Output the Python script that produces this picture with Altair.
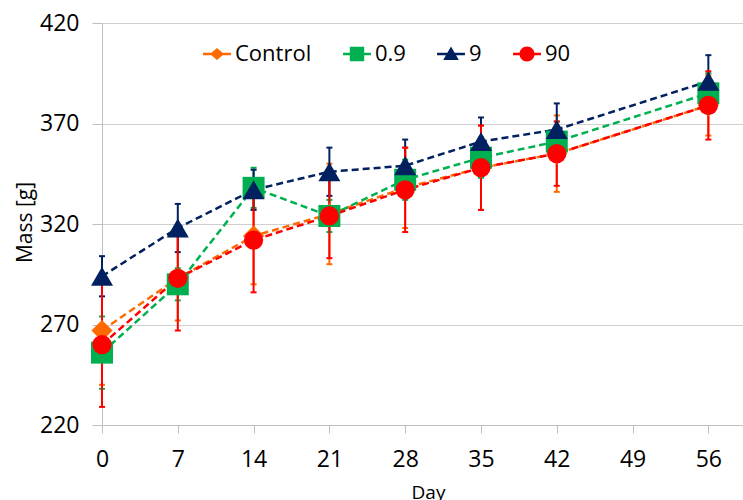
import altair as alt
import pandas as pd

# ---- data ----
days = [0, 7, 14, 21, 28, 35, 42, 56]
series_names = ["Control", "0.9", "9", "90"]
control_mass = [267, 293, 314, 325, 338, 348, 355, 379]
control_sd = [27, 21, 24, 25, 20, 21, 19, 15]
dose09_mass = [256, 290, 338, 324, 342, 353, 361, 385]
dose09_sd = [18, 8, 10, 8, 10, 10, 10, 10]
dose9_mass = [294, 318, 337, 346, 349, 361, 367, 391]
dose9_sd = [10, 12, 10, 12, 13, 12, 13, 13]
dose90_mass = [260, 293, 312, 324, 337, 348, 355, 379]
dose90_sd = [31, 26, 26, 21, 21, 21, 16, 17]
x_ticks = [0, 7, 14, 21, 28, 35, 42, 49, 56]
y_ticks = [220, 270, 320, 370, 420]

# ---- styles ----
colors = ["#FF6A00", "#00B050", "#002060", "#FF0000"]
shapes = ["diamond", "square", "triangle-up", "circle"]
sizes = [450, 484, 484, 370]
bar = "M-0.93,-0.08L0.93,-0.08L0.93,0.08L-0.93,0.08Z"
legend_paths = [
    bar + "M-0.47,0L0,-0.4L0.47,0L0,0.4Z",
    bar + "M-0.48,-0.48L0.48,-0.48L0.48,0.48L-0.48,0.48Z",
    bar + "M0,-0.5L0.52,0.4L-0.52,0.4Z",
    bar + "M0.5,0A0.5,0.5 0 1,1 -0.5,0A0.5,0.5 0 1,1 0.5,0Z",
]

masses = [control_mass, dose09_mass, dose9_mass, dose90_mass]
sds = [control_sd, dose09_sd, dose9_sd, dose90_sd]
rows = []
for name, m, s in zip(series_names, masses, sds):
    for d, v, e in zip(days, m, s):
        rows.append({"day": d, "series": name, "mass": v, "lo": v - e, "hi": v + e})
df = pd.DataFrame(rows)
caps = pd.concat([
    df[["day", "series", "lo"]].rename(columns={"lo": "cap"}),
    df[["day", "series", "hi"]].rename(columns={"hi": "cap"}),
])

FONT = "Open Sans"
x_scale = alt.Scale(domain=[0, 59.2], nice=False, zero=False)
y_scale = alt.Scale(domain=[220, 420], nice=False, zero=False)
x_axis = alt.Axis(values=x_ticks, title="Day", grid=False, tickSize=8, labelPadding=15,
                  labelFlush=False, titleFontSize=19, titleFontWeight="normal",
                  titleX=326, titleY=73, titleBaseline="alphabetic", titleAlign="center")
y_axis = alt.Axis(values=y_ticks, title="Mass [g]", grid=True, tickSize=10, labelPadding=13,
                  labelFlush=False, titleFontSize=21, titleFontWeight="normal",
                  titleAngle=270, titleX=-71, titleY=199, titleBaseline="alphabetic",
                  titleAlign="center")


def X():
    return alt.X("day:Q", scale=x_scale, axis=x_axis)


def Y(field):
    return alt.Y(f"{field}:Q", scale=y_scale, axis=y_axis)


layers = []
# error bars
for name, col in zip(series_names, colors):
    layers.append(
        alt.Chart(df).transform_filter(alt.datum.series == name)
        .mark_rule(strokeWidth=2, color=col)
        .encode(x=X(), y=Y("lo"), y2="hi:Q")
    )
    layers.append(
        alt.Chart(caps).transform_filter(alt.datum.series == name)
        .mark_tick(orient="horizontal", size=6, thickness=2, color=col, opacity=1)
        .encode(x=X(), y=Y("cap"))
    )
# dashed lines
for name, col in zip(series_names, colors):
    layers.append(
        alt.Chart(df).transform_filter(alt.datum.series == name)
        .mark_line(strokeDash=[7, 4], strokeWidth=2.5, color=col)
        .encode(x=X(), y=Y("mass"))
    )
# markers
for name, col, shp, sz in zip(series_names, colors, shapes, sizes):
    layers.append(
        alt.Chart(df).transform_filter(alt.datum.series == name)
        .mark_point(filled=True, shape=shp, size=sz, color=col, opacity=1)
        .encode(x=X(), y=Y("mass"))
    )

legend = alt.Legend(orient="none", legendX=100, legendY=16, direction="horizontal",
                    title=None, symbolSize=900, labelOffset=3, columnPadding=30,
                    symbolOpacity=1, symbolStrokeWidth=0, labelFontSize=22,
                    labelFont=FONT, labelColor="#000000", padding=0)
layers.append(
    alt.Chart(df).mark_point(filled=True, opacity=0)
    .encode(
        x=X(), y=Y("mass"),
        color=alt.Color("series:N", scale=alt.Scale(domain=series_names, range=colors), legend=legend),
        shape=alt.Shape("series:N", scale=alt.Scale(domain=series_names, range=legend_paths), legend=legend),
    )
)

chart = (
    alt.layer(*layers)
    .properties(width=641, height=402,
                padding={"left": 102, "top": 23, "right": 0, "bottom": 75},
                autosize=alt.AutoSizeParams(type="none"))
    .configure_axis(labelFont=FONT, labelFontSize=23, titleFont=FONT, labelColor="#000000",
                    titleColor="#000000", domainColor="#BFBFBF", tickColor="#BFBFBF",
                    gridColor="#CFCFCF", domainWidth=1, tickWidth=1, gridWidth=1)
    .configure_view(strokeWidth=0)
)

chart.save("out.html", embed_options={"renderer": "svg", "actions": False})
